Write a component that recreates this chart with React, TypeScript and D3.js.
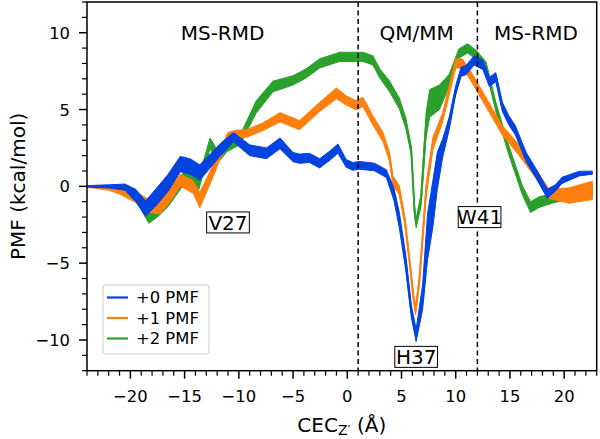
import React from "react";
import * as d3 from "d3";

// ---------- data ----------
const blueX = [-24, -22, -20.5, -19.5, -18.6, -17.5, -16.5, -15.4, -14.5, -13.6, -12.7, -11.75, -10.5, -9.0, -7.45, -6.2, -5.0, -4.4, -3.5, -2.55, -1.6, -0.86, -0.1, 0.5, 1.1, 2.5, 3.6, 4.3, 4.8, 5.4, 5.9, 6.35, 6.95, 7.4, 7.9, 8.3, 8.8, 9.4, 10.0, 10.5, 10.95, 11.7, 12.5, 13.1, 13.7, 14.3, 14.9, 15.5, 16.5, 17.4, 18.45, 19.2, 19.8, 21.4, 22.6];
const blueY = [0, 0, -0.05, -0.6, -1.45, -0.6, 0.25, 1.45, 1.3, 0.9, 1.6, 2.35, 3.2, 2.35, 2.15, 2.8, 1.9, 1.8, 1.85, 1.5, 2.0, 2.46, 1.5, 1.3, 1.37, 1.26, 0.83, -0.5, -2.2, -5.0, -8.1, -9.7, -7.2, -3.3, -1.1, 1.0, 2.5, 4.1, 6.26, 7.46, 7.57, 8.2, 7.9, 6.8, 7.1, 5.17, 4.3, 3.65, 1.9, 0.85, -0.48, -0.1, 0.39, 0.83, 0.89];
const blueErr = [0.05, 0.1, 0.2, 0.4, 0.5, 0.55, 0.55, 0.5, 0.5, 0.5, 0.45, 0.4, 0.3, 0.35, 0.35, 0.35, 0.3, 0.3, 0.3, 0.3, 0.3, 0.3, 0.25, 0.25, 0.25, 0.25, 0.25, 0.4, 0.5, 0.5, 0.4, 0.4, 0.8, 1.5, 1.5, 1.2, 0.6, 0.4, 0.3, 0.3, 0.3, 0.3, 0.3, 0.3, 0.3, 0.3, 0.3, 0.3, 0.3, 0.3, 0.3, 0.2, 0.2, 0.15, 0.1];

const orangeX = [-24, -22, -21, -19.5, -18.2, -17.3, -16.5, -15.4, -14.2, -13.6, -12.5, -11.8, -11.0, -10.3, -9.3, -7.8, -6.2, -4.4, -2.55, -1.0, -0.1, 0.8, 1.44, 2.36, 3.3, 3.9, 4.2, 4.8, 5.3, 5.7, 6.1, 6.3, 6.65, 6.95, 7.27, 7.9, 8.8, 9.4, 10.0, 10.6, 11.25, 12.2, 14.3, 15.85, 17.4, 18.6, 20.45, 22.6];
const orangeY = [0, -0.1, -0.25, -0.7, -1.3, -1.35, -0.7, 0.4, -0.05, -0.9, 0.8, 2.0, 3.2, 3.4, 3.44, 3.87, 4.5, 3.98, 5.17, 6.05, 5.6, 5.28, 5.5, 4.3, 3.2, 1.9, 0.4, -0.26, -2.2, -4.6, -7.2, -8.1, -6.1, -3.3, -0.26, 2.8, 4.5, 6.26, 8.0, 8.0, 7.35, 6.2, 3.65, 2.35, 0.83, -0.48, -0.6, -0.26];
const orangeErr = [0.05, 0.15, 0.25, 0.35, 0.4, 0.45, 0.45, 0.4, 0.4, 0.5, 0.4, 0.35, 0.3, 0.25, 0.25, 0.25, 0.3, 0.3, 0.3, 0.35, 0.3, 0.3, 0.3, 0.3, 0.3, 0.3, 0.3, 0.3, 0.25, 0.25, 0.25, 0.25, 0.25, 0.3, 0.4, 0.4, 0.3, 0.3, 0.3, 0.3, 0.3, 0.3, 0.3, 0.35, 0.3, 0.3, 0.5, 0.6];

const greenX = [-24, -21.1, -19.6, -18.3, -17.5, -16.5, -15.0, -13.7, -12.65, -11.9, -11.1, -9.9, -8.4, -6.85, -5.0, -3.8, -2.55, -0.7, 0.83, 1.44, 2.36, 3.0, 3.9, 4.8, 5.4, 5.9, 6.2, 6.35, 6.8, 7.27, 7.6, 8.5, 9.4, 10.3, 11.1, 11.9, 12.8, 13.7, 14.9, 16.15, 16.9, 17.7, 18.9, 20.5, 22.6];
const greenY = [0, -0.1, -0.48, -2.0, -1.6, -0.9, 0.6, 0.17, 2.8, 1.9, 2.56, 3.0, 5.17, 6.5, 6.9, 7.35, 8.0, 8.43, 8.43, 8.43, 8.2, 7.35, 6.5, 5.4, 4.1, 2.35, -1.57, -2.4, -0.9, 4.0, 5.4, 5.8, 6.9, 8.66, 8.98, 8.55, 7.8, 5.17, 2.35, -0.26, -1.35, -1.02, -0.8, -0.5, -0.3];
const greenErr = [0.05, 0.15, 0.3, 0.4, 0.4, 0.4, 0.4, 0.4, 0.35, 0.35, 0.3, 0.3, 0.4, 0.35, 0.3, 0.3, 0.3, 0.3, 0.3, 0.3, 0.3, 0.3, 0.35, 0.35, 0.35, 0.3, 0.3, 0.3, 0.4, 0.8, 0.9, 0.8, 0.4, 0.3, 0.3, 0.3, 0.3, 0.3, 0.3, 0.3, 0.35, 0.35, 0.3, 0.3, 0.3];

const seriesNames = ["+0 PMF", "+1 PMF", "+2 PMF"];
const seriesColors = ["#0343df", "#ff7f0e", "#2ca02c"];

const xMajorTicks = [-20, -15, -10, -5, 0, 5, 10, 15, 20];
const yMajorTicks = [-10, -5, 0, 5, 10];
const regionBoundaries = [1, 12];
const regionLabels = ["MS-RMD", "QM/MM", "MS-RMD"];
const regionLabelX = [-11.5, 6.4, 17.4];
const residueLabels = ["V27", "W41", "H37"];
const residueX = [-11, 12.2, 6.35];
const residueY = [-2.35, -2.0, -11.1];

// ---------- layout ----------
const W = 600, H = 439;
const L = 87, R = 596.7, T = 2, B = 370.7;
const FONT = "DejaVu Sans, sans-serif";

export default function App() {
  const x = d3.scaleLinear().domain([-24, 23]).range([L, R]);
  const y = d3.scaleLinear().domain([-12, 12]).range([B, T]);

  const mk = (xs: number[], ys: number[], es: number[]) =>
    xs.map((v, i) => ({ x: v, y: ys[i], e: es[i] }));
  const series = [
    mk(blueX, blueY, blueErr),
    mk(orangeX, orangeY, orangeErr),
    mk(greenX, greenY, greenErr),
  ];

  const area = d3
    .area<{ x: number; y: number; e: number }>()
    .x((d) => x(d.x))
    .y0((d) => y(d.y - d.e))
    .y1((d) => y(d.y + d.e));
  const line = d3
    .line<{ x: number; y: number; e: number }>()
    .x((d) => x(d.x))
    .y((d) => y(d.y));

  const xMinor = d3.range(-24, 24, 1).filter((v) => v % 5 !== 0);
  const yMinor = d3.range(-12, 13, 1).filter((v) => v % 5 !== 0);

  const drawOrder = [2, 1, 0];

  return (
    <svg
      width={W}
      height={H}
      style={{ position: "absolute", left: 0, top: 0, background: "#fff" }}
      fontFamily={FONT}
    >
      <defs>
        <clipPath id="plotclip">
          <rect x={L} y={T} width={R - L} height={B - T} />
        </clipPath>
      </defs>
      <rect x={0} y={0} width={W} height={H} fill="#fff" />

      <g clipPath="url(#plotclip)">
        {drawOrder.map((i) => (
          <g key={i}>
            <path d={area(series[i]) || ""} fill={seriesColors[i]} stroke={seriesColors[i]} strokeWidth={1} />
            <path d={line(series[i]) || ""} fill="none" stroke={seriesColors[i]} strokeWidth={2} strokeLinejoin="round" />
          </g>
        ))}
        {regionBoundaries.map((b) => (
          <line key={b} x1={x(b)} x2={x(b)} y1={T} y2={B} stroke="#000" strokeWidth={1.5} strokeDasharray="5,3.5" />
        ))}
      </g>

      {/* region labels */}
      {regionLabels.map((t, i) => (
        <text key={i} x={x(regionLabelX[i])} y={39.5} textAnchor="middle" fontSize={20} fill="#000">
          {t}
        </text>
      ))}

      {/* residue labels with boxes */}
      {residueLabels.map((t, i) => {
        const cx = x(residueX[i]);
        const cy = y(residueY[i]);
        const w = t.length * 12.9 + 4;
        return (
          <g key={t}>
            <rect x={cx - w / 2} y={cy - 10.5} width={w} height={21} fill="#fff" stroke="#000" strokeWidth={1} />
            <text x={cx} y={cy + 7.3} textAnchor="middle" fontSize={20} fill="#000">
              {t}
            </text>
          </g>
        );
      })}

      {/* legend */}
      <g>
        <rect x={103} y={285} width={106} height={69} rx={3} fill="#fff" fillOpacity={0.8} stroke="#ccc" strokeWidth={1} />
        {seriesNames.map((n, i) => (
          <g key={n}>
            <line x1={107} x2={128} y1={297.5 + i * 20.5} y2={297.5 + i * 20.5} stroke={seriesColors[i]} strokeWidth={2.2} />
            <text x={136} y={303.3 + i * 20.5} fontSize={16.4} fill="#000">
              {n}
            </text>
          </g>
        ))}
      </g>

      {/* axes frame */}
      <rect x={L} y={T} width={R - L} height={B - T} fill="none" stroke="#000" strokeWidth={1.5} />

      {/* x ticks */}
      {xMinor.map((v) => (
        <line key={"xm" + v} x1={x(v)} x2={x(v)} y1={B} y2={B + 5} stroke="#000" strokeWidth={1.2} />
      ))}
      {xMajorTicks.map((v) => (
        <g key={"xM" + v}>
          <line x1={x(v)} x2={x(v)} y1={B} y2={B + 8} stroke="#000" strokeWidth={1.5} />
          <text x={x(v)} y={401.5} textAnchor="middle" fontSize={16.4} fill="#000">
            {v < 0 ? "\u2212" + Math.abs(v) : String(v)}
          </text>
        </g>
      ))}

      {/* y ticks */}
      {yMinor.map((v) => (
        <line key={"ym" + v} x1={L - 5} x2={L} y1={y(v)} y2={y(v)} stroke="#000" strokeWidth={1.2} />
      ))}
      {yMajorTicks.map((v) => (
        <g key={"yM" + v}>
          <line x1={L - 8} x2={L} y1={y(v)} y2={y(v)} stroke="#000" strokeWidth={1.5} />
          <text x={70} y={y(v) + 6} textAnchor="end" fontSize={16.4} fill="#000">
            {v < 0 ? "\u2212" + Math.abs(v) : String(v)}
          </text>
        </g>
      ))}

      {/* axis labels */}
      <text transform={`translate(25, ${(T + B) / 2}) rotate(-90)`} textAnchor="middle" fontSize={20} fill="#000">
        PMF (kcal/mol)
      </text>
      <text x={(L + R) / 2} y={431.5} textAnchor="middle" fontSize={20} fill="#000">
        CEC
        <tspan fontSize={14} dy={3}>Z′</tspan>
        <tspan dy={-3}> (Å)</tspan>
      </text>
    </svg>
  );
}
